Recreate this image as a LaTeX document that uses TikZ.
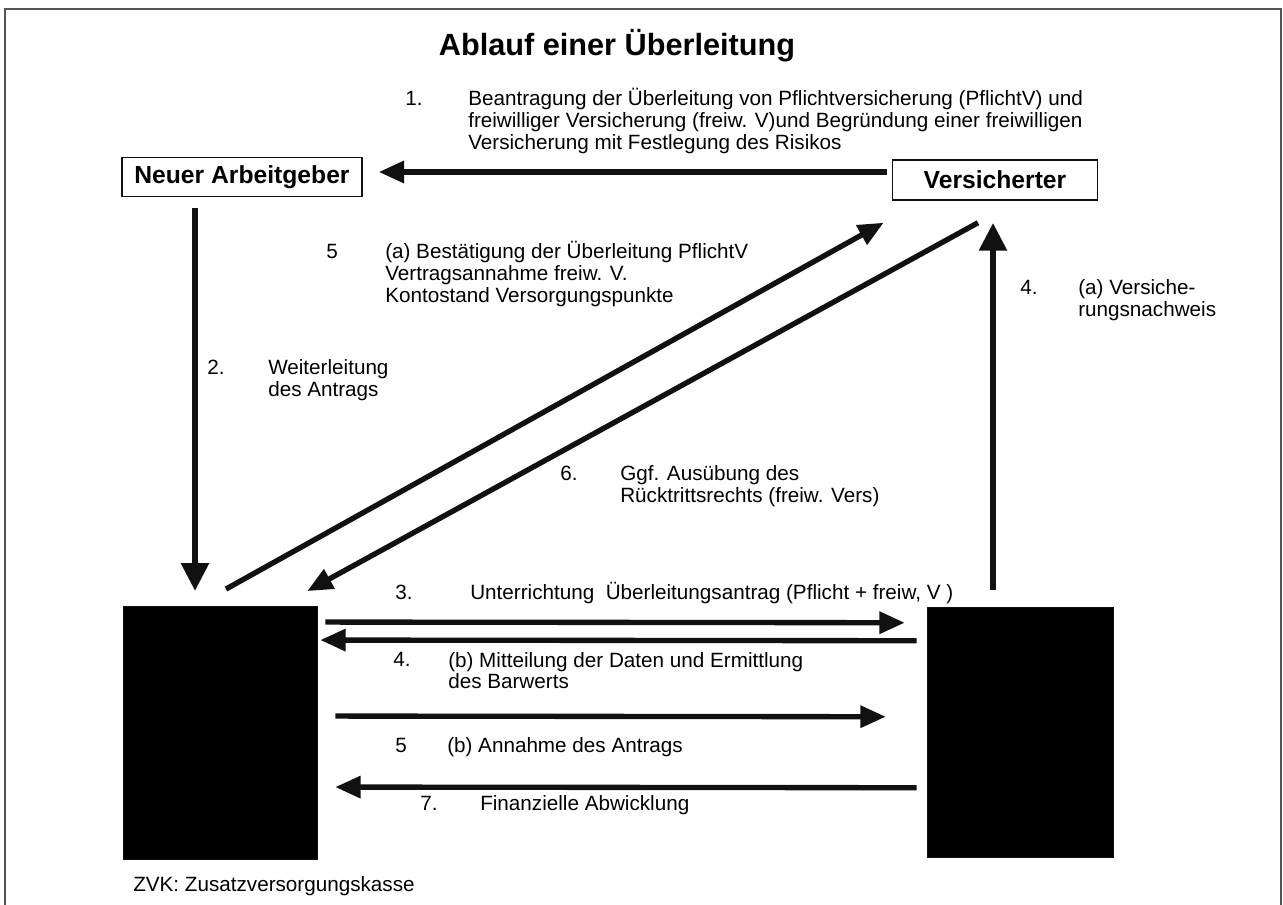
\documentclass[tikz,border=0pt]{standalone}
\usepackage{fontspec}
\setmainfont{Liberation Sans}
\usetikzlibrary{arrows.meta,calc}
\definecolor{ink}{HTML}{111111}
\definecolor{frame}{HTML}{555555}
\tikzset{
  flow/.style={ink,line width=4pt,-{Triangle[length=19pt,width=16pt]}},
  downflow/.style={flow,line width=5pt,-{Triangle[length=21pt,width=20pt]}},
  party/.style={draw=ink,line width=1.1pt,inner sep=0pt,font=\fontsize{18.5}{20}\selectfont\bfseries},
  kasse/.style={fill=black,draw=ink,inner sep=0pt},
  txt/.style={anchor=base west,inner sep=0pt,align=left,font=\fontsize{15.5}{16.5}\selectfont}
}
\begin{document}
\begin{tikzpicture}[x=0.75pt,y=-0.75pt]
\useasboundingbox (0,0) rectangle (1283,905);
\draw[frame,line width=.9pt] (5,905) -- (5,9) -- (1281,9) -- (1281,905);
\node[font=\fontsize{23}{26}\selectfont\bfseries] (title) at (617,46) {Ablauf einer Überleitung};
% Beteiligte
\node[party,minimum width=180pt,minimum height=29pt] (na) at (242,177) {Neuer Arbeitgeber};
\node[party,minimum width=154pt,minimum height=30pt] (vs) at (995,180) {Versicherter};
% Kassen
\node[kasse,minimum width=145.5pt,minimum height=190pt] (zl) at (220,733) {};
\node[kasse,minimum width=139.5pt,minimum height=187.5pt] (zr) at (1020,732) {};
% Schritte
\draw[flow] ($(vs.west)+(-5,-8)$) -- ($(na.east)+(16,-5)$);
\draw[downflow] ($(na.south)+(-47,11)$) -- ($(zl.north)+(-25,-15)$);
\draw[flow] ($(zl.north)+(6,-17)$) -- ($(vs.south west)+(-8,22)$);
\draw[flow] ($(vs.south)+(-17,22)$) -- ($(zl.north east)+(-10,-15)$);
\draw[downflow] ($(zr.north)+(-27,-17)$) -- ($(vs.south)+(-2,22)$);
\draw[flow] ($(zl.north east)+(8,16)$) -- ($(zr.north west)+(-22,16)$);
\draw[flow] ($(zr.north west)+(-10,34)$) -- ($(zl.north east)+(3,34)$);
\draw[flow] ($(zl.north east)+(18,110)$) -- ($(zr.north west)+(-41,110)$);
\draw[flow] ($(zr.north west)+(-10,181)$) -- ($(zl.north east)+(18,181)$);
% Beschriftung (Grundlinie = letzte Zeile)
\node[txt] (n1) at (405,106) {1.};
\node[txt] (t1) at (468,150) {Beantragung der Überleitung von Pflichtversicherung (PflichtV) und\\freiwilliger Versicherung (freiw. V)und Begründung einer freiwilligen\\Versicherung mit Festlegung des Risikos};
\node[txt] (n2) at (207,375) {2.};
\node[txt] (t2) at (268,397) {Weiterleitung\\des Antrags};
\node[txt] (n5a) at (326,259) {5};
\node[txt] (t5a) at (385,303) {(a) Bestätigung der Überleitung PflichtV\\Vertragsannahme freiw. V.\\Kontostand Versorgungspunkte};
\node[txt] (n4a) at (1020,295) {4.};
\node[txt] (t4a) at (1078,317) {(a) Versiche-\\rungsnachweis};
\node[txt] (n6) at (560,481) {6.};
\node[txt] (t6) at (620,503) {Ggf. Ausübung des\\Rücktrittsrechts (freiw. Vers)};
\node[txt] (n3) at (395,600) {3.};
\node[txt] (t3) at (470,600) {Unterrichtung\ \ Überleitungsantrag (Pflicht + freiw, V )};
\node[txt] (n4b) at (393,667) {4.};
\node[txt] (t4b) at (448,689) {(b) Mitteilung der Daten und Ermittlung\\des Barwerts};
\node[txt] (n5b) at (395,753) {5};
\node[txt] (t5b) at (447,753) {(b) Annahme des Antrags};
\node[txt] (n7) at (420,810) {7.};
\node[txt] (t7) at (480,810) {Finanzielle Abwicklung};
\node[txt] (zvk) at (133,891) {ZVK: Zusatzversorgungskasse};
\end{tikzpicture}
\end{document}
